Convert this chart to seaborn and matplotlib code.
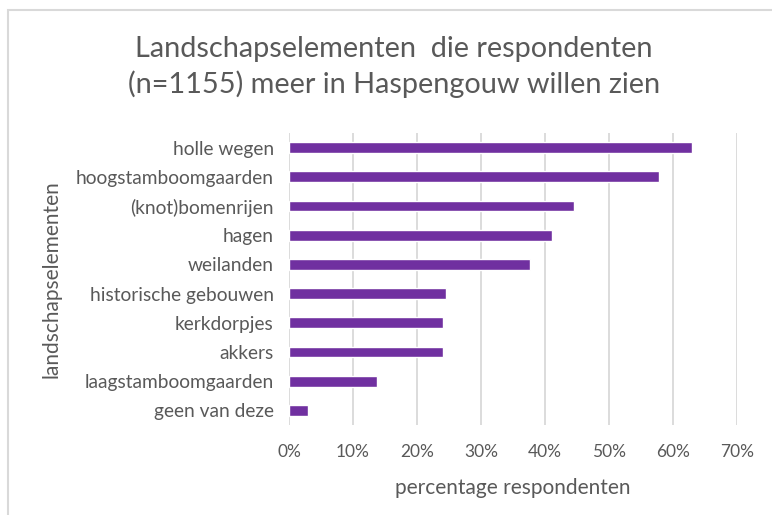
import matplotlib
matplotlib.use("Agg")
import matplotlib.pyplot as plt
import seaborn as sns
import pandas as pd
from matplotlib.patches import Rectangle
from matplotlib.ticker import PercentFormatter

# data
elements = ["holle wegen", "hoogstamboomgaarden", "(knot)bomenrijen", "hagen", "weilanden",
            "historische gebouwen", "kerkdorpjes", "akkers", "laagstamboomgaarden", "geen van deze"]
percent = [62.9, 57.8, 44.5, 41.1, 37.7, 24.5, 24.1, 24.1, 13.7, 2.9]
x_ticks = [0, 10, 20, 30, 40, 50, 60, 70]

title = "Landschapselementen  die respondenten\n(n=1155) meer in Haspengouw willen zien"
x_label = "percentage respondenten"
y_label = "landschapselementen"

df = pd.DataFrame({"element": elements, "percent": percent})

sns.set_style("white")
plt.rcParams["font.family"] = ["Lato", "DejaVu Sans"]
TXT = "#595959"

fig = plt.figure(figsize=(7.72, 5.15), dpi=100)
ax = fig.add_axes([289 / 772, 1 - 425 / 515, (737 - 289) / 772, (425 - 133) / 515])

sns.barplot(data=df, x="percent", y="element", color="#7030A0", saturation=1,
            width=0.37, ax=ax)

ax.set_xlim(0, 70)
ax.set_ylim(9.5, -0.5)
ax.set_xticks(x_ticks)
ax.xaxis.set_major_formatter(PercentFormatter(decimals=0))
ax.grid(axis="x", color="#D9D9D9", linewidth=1.3)
ax.set_axisbelow(True)
for s in ax.spines.values():
    s.set_visible(False)
ax.tick_params(axis="both", length=0, colors=TXT)
ax.tick_params(axis="y", pad=11, labelsize=13.8)
ax.tick_params(axis="x", pad=14, labelsize=12.5)
ax.set_xlabel(x_label, fontsize=15, color=TXT, labelpad=13)
ax.set_ylabel(y_label, fontsize=15, color=TXT, labelpad=10)

fig.text(394 / 772, 1 - 67 / 515, title, ha="center", va="center", fontsize=20.8,
         color=TXT, linespacing=1.4)

# chart border like the spreadsheet frame
fig.patches.append(Rectangle((8 / 772, -0.1), 1.2, 1 - 10 / 515 + 0.1, transform=fig.transFigure,
                             fill=False, edgecolor="#D9D9D9", linewidth=1.5))

fig.savefig("out.png", dpi=100)
